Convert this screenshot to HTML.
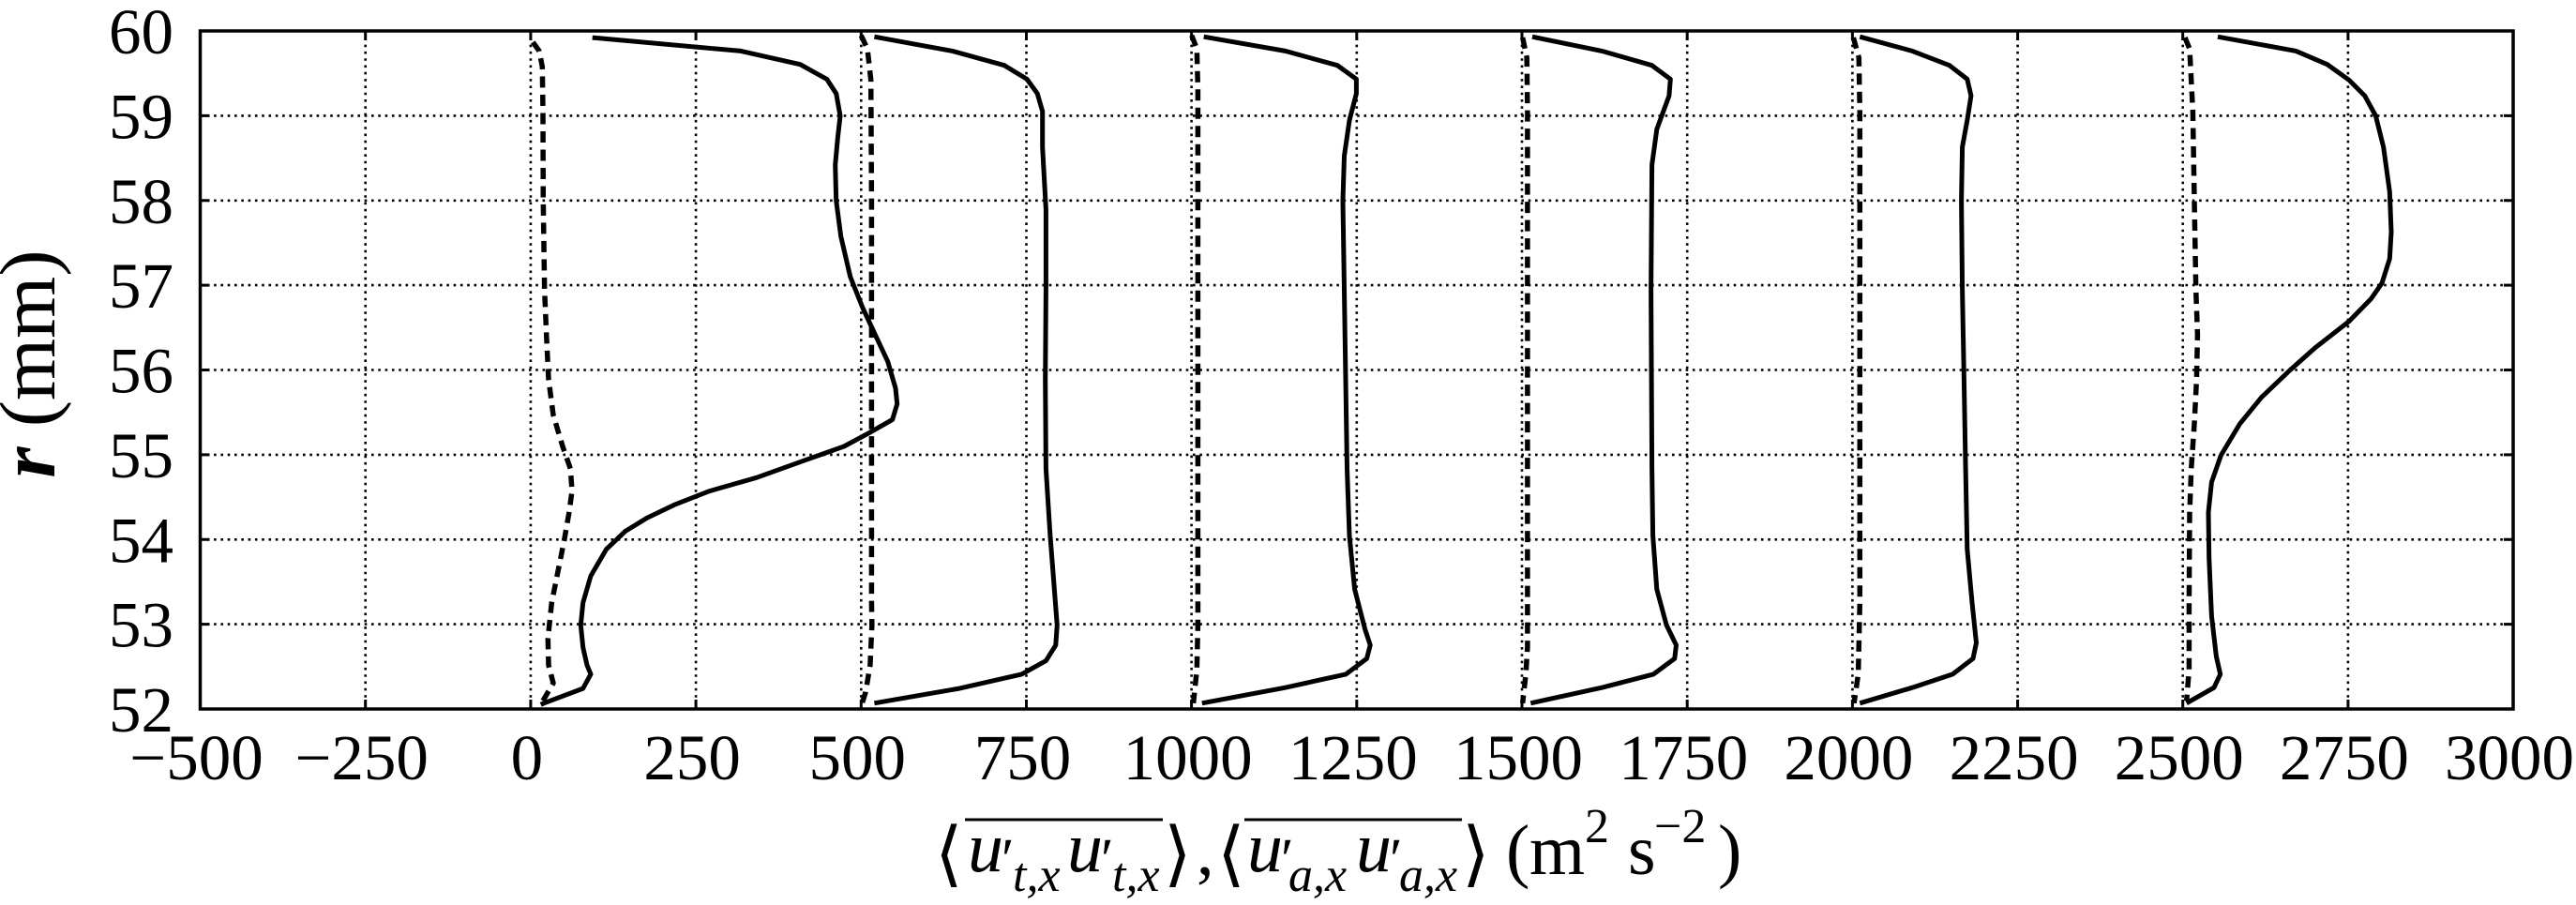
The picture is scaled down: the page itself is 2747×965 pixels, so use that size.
<!DOCTYPE html>
<html>
<head>
<meta charset="utf-8">
<style>
  html,body{margin:0;padding:0;background:#fff;}
  svg{display:block;}
  .tk{font-family:"Liberation Serif","DejaVu Serif",serif;font-size:69px;fill:#000;}
  .ti{font-family:"Liberation Serif","DejaVu Serif",serif;fill:#000;}
  .it{font-style:italic;}
  .ang{font-family:"DejaVu Sans","Liberation Serif",sans-serif;fill:#000;}
</style>
</head>
<body>
<svg width="2747" height="965" viewBox="0 0 2747 965" xmlns="http://www.w3.org/2000/svg">
  <rect x="0" y="0" width="2747" height="965" fill="#fff"/>

  <!-- grid -->
  <g stroke="#000" stroke-width="2.6" stroke-dasharray="2.6 4.7" fill="none">
    <line x1="389.7" y1="33" x2="389.7" y2="756"/>
    <line x1="565.9" y1="33" x2="565.9" y2="756"/>
    <line x1="742.1" y1="33" x2="742.1" y2="756"/>
    <line x1="918.3" y1="33" x2="918.3" y2="756"/>
    <line x1="1094.5" y1="33" x2="1094.5" y2="756"/>
    <line x1="1270.6" y1="33" x2="1270.6" y2="756"/>
    <line x1="1446.8" y1="33" x2="1446.8" y2="756"/>
    <line x1="1623.0" y1="33" x2="1623.0" y2="756"/>
    <line x1="1799.2" y1="33" x2="1799.2" y2="756"/>
    <line x1="1975.4" y1="33" x2="1975.4" y2="756"/>
    <line x1="2151.6" y1="33" x2="2151.6" y2="756"/>
    <line x1="2327.7" y1="33" x2="2327.7" y2="756"/>
    <line x1="2503.9" y1="33" x2="2503.9" y2="756"/>

    <line x1="213.5" y1="123.4" x2="2680" y2="123.4"/>
    <line x1="213.5" y1="213.8" x2="2680" y2="213.8"/>
    <line x1="213.5" y1="304.1" x2="2680" y2="304.1"/>
    <line x1="213.5" y1="394.5" x2="2680" y2="394.5"/>
    <line x1="213.5" y1="484.9" x2="2680" y2="484.9"/>
    <line x1="213.5" y1="575.3" x2="2680" y2="575.3"/>
    <line x1="213.5" y1="665.6" x2="2680" y2="665.6"/>
  </g>

  <!-- ticks -->
  <g stroke="#000" stroke-width="3">
    <path d="M389.7 756v-10M565.9 756v-10M742.1 756v-10M918.3 756v-10M1094.5 756v-10M1270.6 756v-10M1446.8 756v-10M1623 756v-10M1799.2 756v-10M1975.4 756v-10M2151.6 756v-10M2327.7 756v-10M2503.9 756v-10"/>
    <path d="M389.7 33v10M565.9 33v10M742.1 33v10M918.3 33v10M1094.5 33v10M1270.6 33v10M1446.8 33v10M1623 33v10M1799.2 33v10M1975.4 33v10M2151.6 33v10M2327.7 33v10M2503.9 33v10"/>
    <path d="M213.5 123.4h10M213.5 213.8h10M213.5 304.1h10M213.5 394.5h10M213.5 484.9h10M213.5 575.3h10M213.5 665.6h10"/>
    <path d="M2680 123.4h-10M2680 213.8h-10M2680 304.1h-10M2680 394.5h-10M2680 484.9h-10M2680 575.3h-10M2680 665.6h-10"/>
  </g>

  <!-- series -->
  <g fill="none" stroke="#000" stroke-linejoin="round">
    <!-- profile 1 -->
    <polyline stroke-width="5" points="631.7,40.1 790,54.4 853.3,68.7 881.7,84.4 891.7,99.7 896,123.5 893.3,147.3 890.7,175.9 891.7,214 896.7,252.1 906.7,295 920,328.3 933.3,356.9 946.7,385.5 955,414 956.7,430.7 951.7,447.4 926.7,461.7 900,476 860,490.2 806.7,509.3 756.7,523.6 720,537.9 690,552.2 666.7,566.5 646.7,585.5 630,614.1 621.7,642.7 619.3,666.5 621.7,690.3 626,709.3 630,718.9 621.7,734.1 580,749.8 576.7,751.3"/>
    <polyline stroke-width="5.5" stroke-dasharray="12 7.5" points="568.3,44.9 575,54.4 578.3,71.1 579,118.7 579.3,214 580.7,309.3 582.7,356.9 585,404.5 590,442.6 600,476 608.3,499.8 610,523.6 606.7,547.4 601.7,576 595,609.3 588.3,642.7 584.3,680.8 585,709.3 590,728.4 578.3,748.4"/>

    <!-- profile 2 -->
    <polyline stroke-width="5" points="932.4,39.2 1015.6,54.4 1071,69.7 1095.1,84.4 1106.2,99.7 1111.7,118.7 1111.7,156.8 1115.4,223.5 1115.4,309.3 1114.7,404.5 1115.4,499.8 1119.9,571.2 1124.7,633.1 1127.3,666.5 1125.8,687.9 1115.4,704.6 1089.5,718.9 1023,734.1 932.4,749.8"/>
    <polyline stroke-width="5.5" stroke-dasharray="12 7.5" points="918.3,37.8 925,52.1 928.7,85.4 929.4,214 929.4,642.7 929.8,666.5 927.9,709.3 923.1,737.9 919.4,749.8"/>

    <!-- profile 3 -->
    <polyline stroke-width="5" points="1283.7,39.2 1370.6,54.4 1426.1,69.7 1446.4,84.4 1446.4,99.7 1439,128.3 1433.5,166.4 1432,214 1433.5,309.3 1435,404.5 1436.5,499.8 1439,571.2 1444.6,628.4 1455.7,671.2 1461.2,687.9 1457.5,702.2 1435.3,718.9 1370.6,733.2 1281.8,749.8"/>
    <polyline stroke-width="5.5" stroke-dasharray="12 7.5" points="1270.8,37.8 1276.3,52.1 1277.4,94.9 1277.4,666.5 1276.3,714.1 1272.6,749.8"/>

    <!-- profile 4 -->
    <polyline stroke-width="5" points="1634,39.2 1708.2,54.4 1761.6,69.7 1781.3,84.4 1779.9,102.1 1766.8,137.8 1761.6,175.9 1760.6,309.3 1761.6,499.8 1762.6,571.2 1766.8,628.4 1777.1,666.5 1787.5,687.9 1785.8,702.2 1763.3,718.9 1708.2,733.2 1632.3,749.8"/>
    <polyline stroke-width="5.5" stroke-dasharray="12 7.5" points="1623.7,40.1 1628.2,61.6 1628.9,118.7 1628.9,690.3 1627.1,718.9 1623.7,749.8"/>

    <!-- profile 5 -->
    <polyline stroke-width="5" points="1983.3,39.2 2039.2,54.4 2078.8,69.7 2097.8,84.4 2101.9,102.1 2097.8,128.3 2092.6,156.8 2091.6,214 2092.6,309.3 2094.4,404.5 2096.1,499.8 2097.8,585.5 2103,642.7 2107.5,685.5 2104,702.2 2082.3,718.9 2039.2,733.2 1983.3,749.8"/>
    <polyline stroke-width="5.5" stroke-dasharray="12 7.5" points="1976.4,40.1 1982.3,61.6 1983.3,118.7 1983.3,642.7 1981.6,718.9 1977.1,749.8"/>

    <!-- profile 6 -->
    <polyline stroke-width="5" points="2365,39.2 2448.4,54.4 2481.7,68.7 2505,85.4 2521.7,102.1 2533.4,123.5 2541.7,156.8 2548.3,204.5 2550,247.3 2548.3,275.9 2540,302.1 2528.3,318.8 2505,342.6 2468.4,371.2 2441.7,395 2411.7,423.6 2388.4,452.1 2368.4,485.5 2358.4,514.1 2355,546.4 2355.7,595 2358.4,657 2363.4,699.8 2367.7,718.9 2361,733.2 2331.7,749.8"/>
    <polyline stroke-width="5.5" stroke-dasharray="12 7.5" points="2330,40.1 2335,52.1 2338.4,118.7 2340,214 2341.7,309.3 2343.4,356.9 2342.4,404.5 2340,452.1 2336.7,499.8 2335,547.4 2334.4,642.7 2334.4,714.1 2331.7,747.4"/>
  </g>

  <!-- frame -->
  <rect x="213.5" y="33" width="2466.5" height="723" fill="none" stroke="#000" stroke-width="3.5"/>

  <!-- y tick labels -->
  <g class="tk" text-anchor="end">
    <text x="185" y="57">60</text>
    <text x="185" y="147.4">59</text>
    <text x="185" y="237.8">58</text>
    <text x="185" y="328.1">57</text>
    <text x="185" y="418.5">56</text>
    <text x="185" y="508.9">55</text>
    <text x="185" y="599.3">54</text>
    <text x="185" y="689.6">53</text>
    <text x="185" y="780">52</text>
  </g>

  <!-- x tick labels -->
  <g class="tk" text-anchor="middle">
    <text x="209.5" y="831">−500</text>
    <text x="385.7" y="831">−250</text>
    <text x="561.9" y="831">0</text>
    <text x="738.1" y="831">250</text>
    <text x="914.3" y="831">500</text>
    <text x="1090.5" y="831">750</text>
    <text x="1266.6" y="831">1000</text>
    <text x="1442.8" y="831">1250</text>
    <text x="1619" y="831">1500</text>
    <text x="1795.2" y="831">1750</text>
    <text x="1971.4" y="831">2000</text>
    <text x="2147.6" y="831">2250</text>
    <text x="2323.7" y="831">2500</text>
    <text x="2499.9" y="831">2750</text>
    <text x="2676" y="831">3000</text>
  </g>

  <!-- y axis title -->
  <text class="ti" font-size="85" text-anchor="middle" transform="translate(58,388) rotate(-90)"><tspan font-style="italic" font-weight="bold">r</tspan> (mm)</text>

  <!-- x axis title -->
  <g>
    <text class="ang" font-size="76" x="997" y="936">⟨</text>
    <text class="ti it" font-size="76" x="1032" y="929">u</text>
    <text class="ti" font-size="62" x="1068" y="937">′</text>
    <text class="ti it" font-size="52" x="1080" y="950">t,x</text>
    <text class="ti it" font-size="76" x="1138" y="929">u</text>
    <text class="ti" font-size="62" x="1174" y="937">′</text>
    <text class="ti it" font-size="52" x="1186" y="950">t,x</text>
    <line x1="1029" y1="874" x2="1240" y2="874" stroke="#000" stroke-width="3"/>
    <text class="ang" font-size="76" x="1241" y="936">⟩</text>
    <text class="ti" font-size="74" x="1276" y="932">,</text>

    <text class="ang" font-size="76" x="1298" y="936">⟨</text>
    <text class="ti it" font-size="76" x="1330" y="929">u</text>
    <text class="ti" font-size="62" x="1366" y="937">′</text>
    <text class="ti it" font-size="52" x="1374" y="950">a,x</text>
    <text class="ti it" font-size="76" x="1446" y="929">u</text>
    <text class="ti" font-size="62" x="1482" y="937">′</text>
    <text class="ti it" font-size="52" x="1492" y="950">a,x</text>
    <line x1="1327" y1="874" x2="1559" y2="874" stroke="#000" stroke-width="3"/>
    <text class="ang" font-size="76" x="1559" y="936">⟩</text>

    <text class="ti" font-size="76" x="1606" y="932">(</text>
    <text class="ti" font-size="76" x="1631" y="932">m</text>
    <text class="ti" font-size="52" x="1690" y="898">2</text>
    <text class="ti" font-size="76" x="1736" y="932">s</text>
    <text class="ti" font-size="52" x="1764" y="898">−2</text>
    <text class="ti" font-size="76" x="1832" y="932">)</text>
  </g>
</svg>
</body>
</html>
